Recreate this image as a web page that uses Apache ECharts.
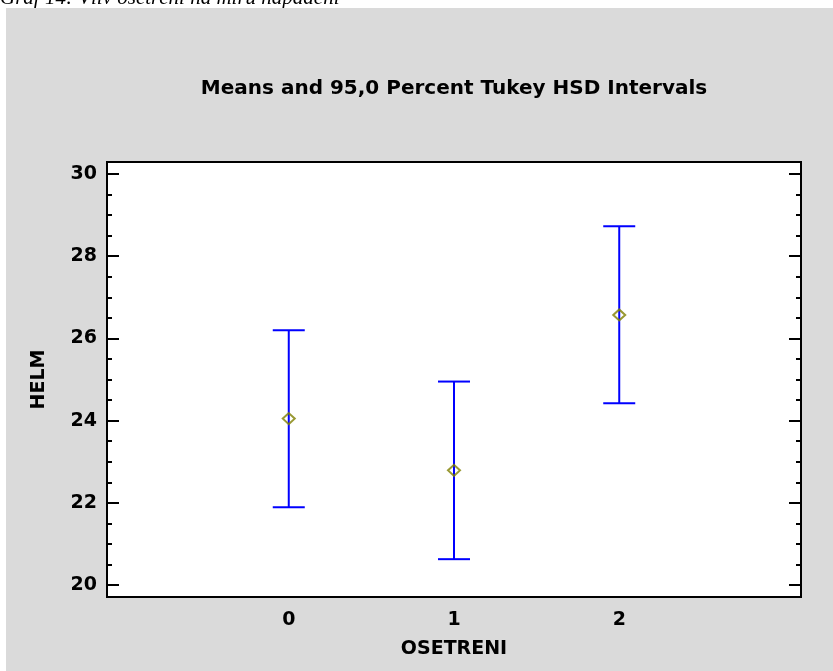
<!DOCTYPE html>
<html>
<head>
<meta charset="utf-8">
<script src="https://cdn.jsdelivr.net/npm/echarts@6/dist/echarts.min.js"></script>
<style>
html,body{margin:0;padding:0;background:#fff;}
#chart{width:833px;height:671px;}
</style>
</head>
<body>
<div id="chart"></div>
<script>
// ---- data ----
var categories = [0, 1, 2];
var means = [24.05, 22.79, 26.57];
var lowerLimits = [21.89, 20.63, 24.42];
var upperLimits = [26.20, 24.95, 28.73];
var yMajorTicks = [20, 22, 24, 26, 28, 30];
var yMinorTicks = [20.5, 21, 21.5, 22.5, 23, 23.5, 24.5, 25, 25.5, 26.5, 27, 27.5, 28.5, 29, 29.5];
var xTicks = [0, 1, 2];
var titleText = 'Means and 95,0 Percent Tukey HSD Intervals';
var captionText = 'Graf 14: Vliv ošetření na míru napadení';

var FONT = '"DejaVu Sans", "Liberation Sans", Arial, sans-serif';
var Y_MIN = 19.71, Y_MAX = 30.29;

var chart = echarts.init(document.getElementById('chart'), null, {renderer: 'canvas'});

function yAxisDef(pos, ticks, len, labels) {
  return {
    type: 'value', position: pos, min: Y_MIN, max: Y_MAX,
    axisLine: {show: false, onZero: false},
    splitLine: {show: false},
    axisTick: {show: true, inside: true, length: len, customValues: ticks,
               lineStyle: {color: '#000', width: 2}},
    axisLabel: labels ? {show: true, customValues: ticks, margin: 10,
               color: '#000', fontFamily: FONT, fontWeight: 'bold', fontSize: 19} : {show: false},
    name: labels ? 'HELM' : '',
    nameLocation: 'middle', nameGap: 58,
    nameTextStyle: {color: '#000', fontFamily: FONT, fontWeight: 'bold', fontSize: 19}
  };
}

var errData = categories.map(function (c, i) { return [c, lowerLimits[i], upperLimits[i]]; });
var meanData = categories.map(function (c, i) { return [c, means[i]]; });

chart.setOption({
  animation: false,
  backgroundColor: '#fff',
  graphic: [
    {type: 'text', left: 0, top: -12, z: -2,
     style: {text: captionText, font: 'italic 21px "Liberation Serif", "Times New Roman", serif', fill: '#000'}},
    {type: 'rect', shape: {x: 6, y: 8, width: 827, height: 663}, z: -1, silent: true,
     style: {fill: '#dadada'}},
    {type: 'text', x: 454, y: 89, z: 10,
     style: {text: titleText, fontFamily: FONT, fontWeight: 'bold', fontSize: 20,
             fill: '#000', align: 'center', verticalAlign: 'middle'}}
  ],
  grid: {left: 107, right: 32, top: 162, bottom: 74, show: true,
         backgroundColor: '#fff', borderColor: '#000', borderWidth: 2},
  xAxis: {
    type: 'value', min: -1.1, max: 3.1,
    axisLine: {show: false, onZero: false}, splitLine: {show: false}, axisTick: {show: false},
    axisLabel: {customValues: xTicks, margin: 14, color: '#000', fontFamily: FONT,
                fontWeight: 'bold', fontSize: 19},
    name: 'OSETRENI', nameLocation: 'middle', nameGap: 43,
    nameTextStyle: {color: '#000', fontFamily: FONT, fontWeight: 'bold', fontSize: 19}
  },
  yAxis: [
    yAxisDef('left', yMajorTicks, 12, true),
    yAxisDef('left', yMinorTicks, 5, false),
    yAxisDef('right', yMajorTicks, 12, false),
    yAxisDef('right', yMinorTicks, 5, false)
  ],
  series: [
    {
      type: 'custom', yAxisIndex: 0, data: errData, z: 2,
      renderItem: function (params, api) {
        var x = api.value(0);
        var lo = api.coord([x, api.value(1)]);
        var hi = api.coord([x, api.value(2)]);
        var hw = 16;
        var st = {stroke: '#0000ff', lineWidth: 2};
        return {type: 'group', children: [
          {type: 'line', shape: {x1: lo[0], y1: lo[1], x2: hi[0], y2: hi[1]}, style: st},
          {type: 'line', shape: {x1: lo[0] - hw, y1: lo[1], x2: lo[0] + hw, y2: lo[1]}, style: st},
          {type: 'line', shape: {x1: hi[0] - hw, y1: hi[1], x2: hi[0] + hw, y2: hi[1]}, style: st}
        ]};
      }
    },
    {
      type: 'scatter', yAxisIndex: 0, data: meanData, z: 3,
      symbol: 'diamond', symbolSize: [12, 11],
      itemStyle: {color: 'rgba(0,0,0,0)', borderColor: '#808000', borderWidth: 2}
    }
  ]
});
</script>
</body>
</html>
